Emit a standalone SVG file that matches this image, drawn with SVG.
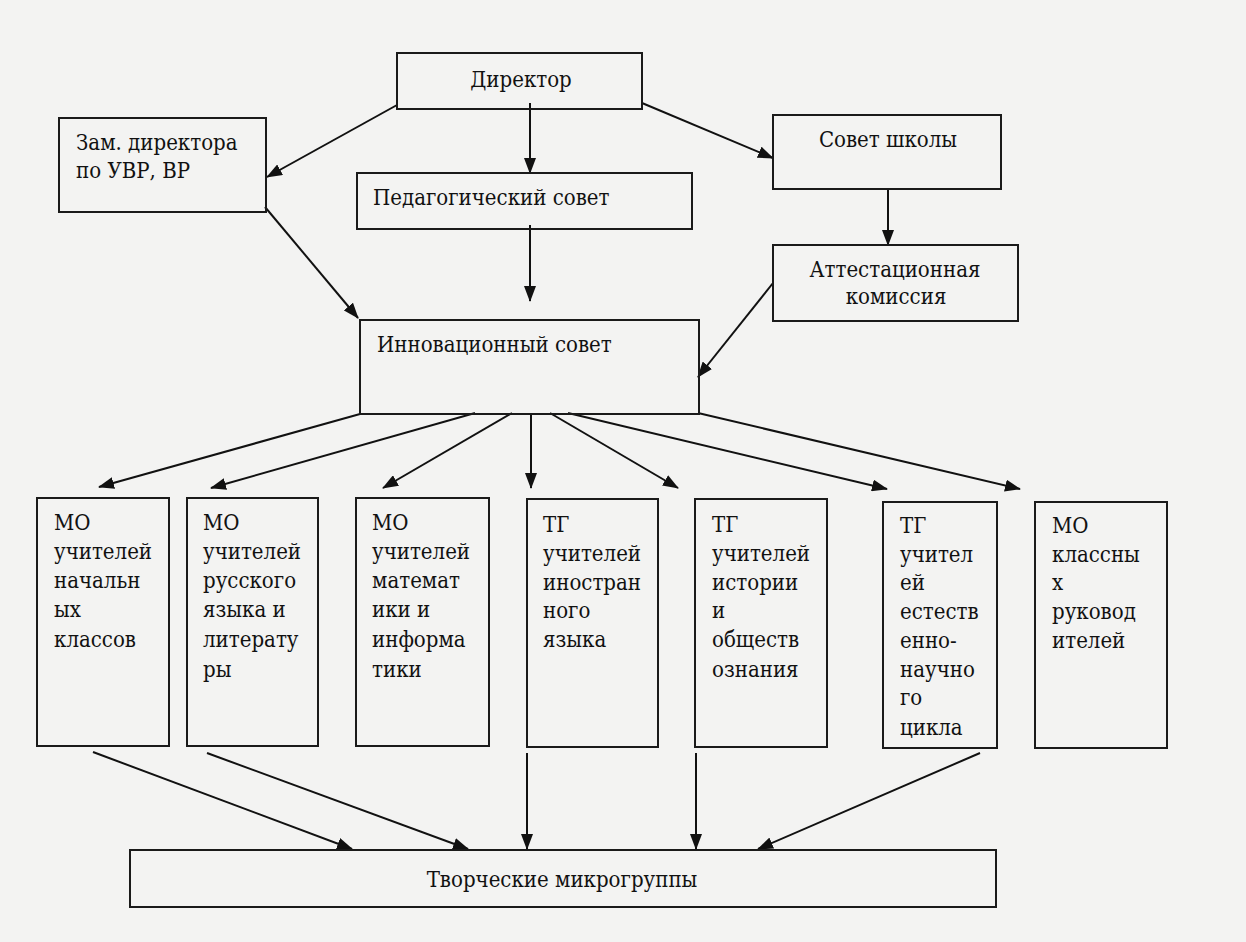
<svg xmlns="http://www.w3.org/2000/svg" width="1246" height="942" viewBox="0 0 1246 942">
<style>
.box{fill:none;stroke:#1a1a1a;stroke-width:2}
text{font-family:'DejaVu Serif Condensed','DejaVu Serif',serif;font-stretch:condensed;font-size:22px;fill:#111}
.c{text-anchor:middle}
.ln{stroke:#111;stroke-width:2;fill:none;marker-end:url(#ah)}
</style>
<defs>
<marker id="ah" markerUnits="userSpaceOnUse" markerWidth="16" markerHeight="12" refX="15" refY="6" orient="auto" viewBox="0 0 16 12">
<path d="M0,0 L16,6 L0,12 z" fill="#111"/>
</marker>
</defs>
<rect x="0" y="0" width="1246" height="942" fill="#f3f3f2"/>
<g id="connectors">
<line class="ln" x1="397" y1="105" x2="267" y2="177"/>
<line class="ln" x1="530" y1="103" x2="530" y2="173"/>
<line class="ln" x1="642" y1="103" x2="773" y2="158"/>
<line class="ln" x1="265" y1="207" x2="358" y2="318"/>
<line class="ln" x1="530" y1="225" x2="530" y2="301"/>
<line class="ln" x1="888" y1="189" x2="888" y2="245"/>
<line class="ln" x1="773" y1="283" x2="698" y2="377"/>
<line class="ln" x1="360" y1="414" x2="99" y2="487"/>
<line class="ln" x1="475" y1="413" x2="211" y2="488"/>
<line class="ln" x1="512" y1="413" x2="383" y2="488"/>
<line class="ln" x1="531" y1="413" x2="531" y2="488"/>
<line class="ln" x1="550" y1="413" x2="678" y2="488"/>
<line class="ln" x1="568" y1="413" x2="887" y2="489"/>
<line class="ln" x1="698" y1="413" x2="1020" y2="489"/>
<line class="ln" x1="93" y1="752" x2="352" y2="849"/>
<line class="ln" x1="207" y1="753" x2="468" y2="849"/>
<line class="ln" x1="527" y1="753" x2="527" y2="849"/>
<line class="ln" x1="696" y1="753" x2="696" y2="849"/>
<line class="ln" x1="980" y1="753" x2="758" y2="849"/>
</g>
<g id="director">
<rect class="box" x="397" y="53" width="245" height="56"/>
<text class="c" x="521" y="87">Директор</text>
</g>
<g id="deputy">
<rect class="box" x="59" y="118" width="207" height="94"/>
<text x="76" y="150">Зам. директора</text>
<text x="76" y="178">по УВР, ВР</text>
</g>
<g id="ped-council">
<rect class="box" x="357" y="173" width="335" height="56"/>
<text x="373" y="205">Педагогический совет</text>
</g>
<g id="school-council">
<rect class="box" x="773" y="115" width="228" height="74"/>
<text class="c" x="888" y="147">Совет школы</text>
</g>
<g id="attestation">
<rect class="box" x="773" y="245" width="245" height="76"/>
<text class="c" x="895" y="277">Аттестационная</text>
<text class="c" x="896" y="304">комиссия</text>
</g>
<g id="innovation">
<rect class="box" x="360" y="320" width="339" height="94"/>
<text x="377" y="352">Инновационный совет</text>
</g>
<g id="mo-primary">
<rect class="box" x="37" y="498" width="132" height="248"/>
<text x="54" y="530">МО</text>
<text x="54" y="559">учителей</text>
<text x="54" y="588">начальн</text>
<text x="54" y="617">ых</text>
<text x="54" y="647">классов</text>
</g>
<g id="mo-russian">
<rect class="box" x="187" y="498" width="131" height="248"/>
<text x="203" y="530">МО</text>
<text x="203" y="559">учителей</text>
<text x="203" y="588">русского</text>
<text x="203" y="617">языка и</text>
<text x="203" y="647">литерату</text>
<text x="203" y="677">ры</text>
</g>
<g id="mo-math">
<rect class="box" x="356" y="498" width="133" height="248"/>
<text x="372" y="530">МО</text>
<text x="372" y="559">учителей</text>
<text x="372" y="588">математ</text>
<text x="372" y="617">ики и</text>
<text x="372" y="647">информа</text>
<text x="372" y="677">тики</text>
</g>
<g id="tg-foreign">
<rect class="box" x="527" y="499" width="131" height="248"/>
<text x="543" y="532">ТГ</text>
<text x="543" y="561">учителей</text>
<text x="543" y="590">иностран</text>
<text x="543" y="618">ного</text>
<text x="543" y="647">языка</text>
</g>
<g id="tg-history">
<rect class="box" x="695" y="499" width="132" height="248"/>
<text x="712" y="532">ТГ</text>
<text x="712" y="561">учителей</text>
<text x="712" y="590">истории</text>
<text x="712" y="618">и</text>
<text x="712" y="647">обществ</text>
<text x="712" y="677">ознания</text>
</g>
<g id="tg-science">
<rect class="box" x="883" y="502" width="114" height="246"/>
<text x="900" y="533">ТГ</text>
<text x="900" y="562">учител</text>
<text x="900" y="590">ей</text>
<text x="900" y="619">естеств</text>
<text x="900" y="648">енно-</text>
<text x="900" y="677">научно</text>
<text x="900" y="705">го</text>
<text x="900" y="735">цикла</text>
</g>
<g id="mo-class">
<rect class="box" x="1035" y="502" width="132" height="246"/>
<text x="1052" y="533">МО</text>
<text x="1052" y="562">классны</text>
<text x="1052" y="590">х</text>
<text x="1052" y="619">руковод</text>
<text x="1052" y="648">ителей</text>
</g>
<g id="microgroups">
<rect class="box" x="130" y="850" width="866" height="57"/>
<text class="c" x="562" y="887">Творческие микрогруппы</text>
</g>
</svg>
